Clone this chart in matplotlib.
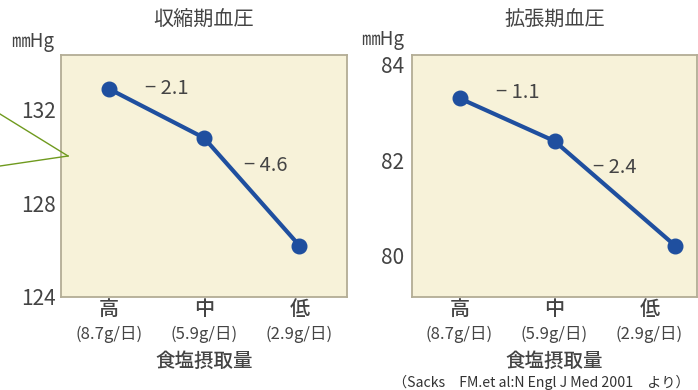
import matplotlib
matplotlib.use("Agg")
import matplotlib.pyplot as plt
from matplotlib.lines import Line2D

plt.rcParams['font.family'] = ['Noto Sans CJK JP', 'DejaVu Sans']

# data
levels = ['高', '中', '低']
salt = ['(8.7g/日)', '(5.9g/日)', '(2.9g/日)']
sbp = [132.9, 130.8, 126.2]
dbp = [83.3, 82.4, 80.2]
dbp_x = [0, 1, 2.27]          # last point sits right of its label in the original
sbp_diff = ['− 2.1', '− 4.6']
dbp_diff = ['− 1.1', '− 2.4']

W, H = 698, 390
txt = '#444444'
line_c = '#1f4f9f'
bg = '#f7f2d9'
edge = '#b3ad95'

fig = plt.figure(figsize=(W / 100, H / 100), dpi=100)


def px_axes(x0, y0, x1, y1):
    return fig.add_axes([x0 / W, 1 - y1 / H, (x1 - x0) / W, (y1 - y0) / H])


def setup(ax, title, ylim, yticks):
    ax.set_facecolor(bg)
    for s in ax.spines.values():
        s.set_color(edge)
        s.set_linewidth(1.3)
    ax.set_xlim(-0.5, 2.5)
    ax.set_ylim(*ylim)
    ax.set_yticks(yticks)
    ax.tick_params(axis='y', length=0, labelsize=15, labelcolor=txt, pad=4)
    ax.set_xticks(range(len(levels)))
    ax.set_xticklabels(levels, fontsize=14.5, color=txt, fontweight='medium')
    ax.tick_params(axis='x', length=0, pad=2)
    for i, s in enumerate(salt):
        ax.annotate(s, xy=(i, 0), xycoords=ax.get_xaxis_transform(),
                    xytext=(0, -27), textcoords='offset points',
                    ha='center', va='center', fontsize=12, color=txt)
    ax.annotate('食塩摂取量', xy=(1, 0), xycoords=ax.get_xaxis_transform(),
                xytext=(0, -46.5), textcoords='offset points',
                ha='center', va='center', fontsize=14, color=txt,
                fontweight='medium')
    ax.set_title(title, fontsize=14.5, color=txt, pad=21)


ax1 = px_axes(61, 55, 347, 297)
setup(ax1, '収縮期血圧', (124, 134.34), [124, 128, 132])
ax1.plot(range(3), sbp, color=line_c, lw=3, marker='o', ms=10.5)
ax1.annotate(sbp_diff[0], xy=(0, sbp[0]), xytext=(26, 0), textcoords='offset points',
             ha='left', va='center', fontsize=14.5, color=txt)
ax1.annotate(sbp_diff[1], xy=(1, sbp[1]), xytext=(29, -20), textcoords='offset points',
             ha='left', va='center', fontsize=14.5, color=txt)

ax2 = px_axes(412, 55, 697, 297)
setup(ax2, '拡張期血圧', (79.12, 84.21), [80, 82, 84])
ax2.tick_params(axis='y', pad=6)
ax2.plot(dbp_x, dbp, color=line_c, lw=3, marker='o', ms=10.5)
ax2.annotate(dbp_diff[0], xy=(dbp_x[0], dbp[0]), xytext=(26, 4), textcoords='offset points',
             ha='left', va='center', fontsize=14.5, color=txt)
ax2.annotate(dbp_diff[1], xy=(dbp_x[1], dbp[1]), xytext=(28, -19), textcoords='offset points',
             ha='left', va='center', fontsize=14.5, color=txt)

# unit labels
fig.text(33 / W, 1 - 41 / H, '㎜Hg', ha='center', va='center', fontsize=13.5, color=txt)
fig.text(383 / W, 1 - 40 / H, '㎜Hg', ha='center', va='center', fontsize=13.5, color=txt)

# callout pointer coming in from the left
green = '#6f9a1e'
fig.add_artist(Line2D([0, 68 / W], [1 - 114 / H, 1 - 156 / H], color=green, lw=1))
fig.add_artist(Line2D([0, 68 / W], [1 - 166 / H, 1 - 156 / H], color=green, lw=1))

fig.text(541 / W, 1 - 382 / H, '（Sacks\u3000FM.et al:N Engl J Med 2001\u3000より）',
         ha='center', va='center', fontsize=10.2, color='#333333')

fig.savefig('out.png', dpi=100, facecolor='white')
